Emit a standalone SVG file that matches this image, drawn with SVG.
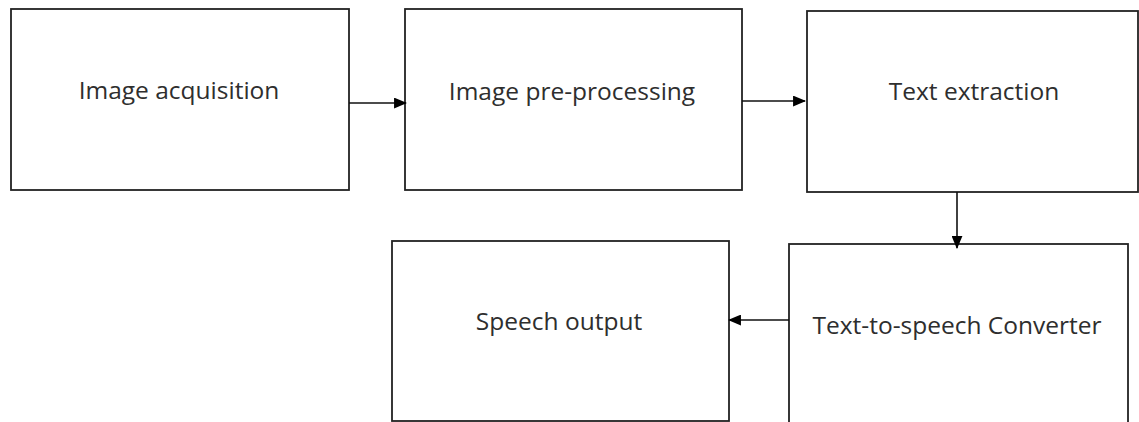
<svg xmlns="http://www.w3.org/2000/svg" width="1139" height="422" viewBox="0 0 1139 422">
  <style>
    .box { fill: #ffffff; stroke: #222222; stroke-width: 1.8; }
    .label { font-family: "Open Sans", "Noto Sans", sans-serif; font-size: 24.5px; fill: #2e2e2e; text-anchor: middle; }
    .link { stroke: #111111; stroke-width: 1.6; fill: none; marker-end: url(#head); }
  </style>
  <defs>
    <marker id="head" viewBox="0 0 12 10" refX="11" refY="5" markerWidth="13" markerHeight="11" markerUnits="userSpaceOnUse" orient="auto">
      <path d="M0,0 L12,5 L0,10 Z" fill="#000000"/>
    </marker>
  </defs>
  <rect width="1139" height="422" fill="#ffffff"/>

  <g id="node-acquisition">
    <rect class="box" x="11" y="9" width="338" height="181"/>
    <text class="label" x="179" y="99">Image acquisition</text>
  </g>
  <g id="node-preprocessing">
    <rect class="box" x="405" y="9" width="337" height="181"/>
    <text class="label" x="572" y="100">Image pre-processing</text>
  </g>
  <g id="node-extraction">
    <rect class="box" x="807" y="11" width="331" height="181"/>
    <text class="label" x="974" y="100">Text extraction</text>
  </g>
  <g id="node-tts">
    <rect class="box" x="789" y="244" width="339" height="190"/>
    <text class="label" x="957" y="334">Text-to-speech Converter</text>
  </g>
  <g id="node-speech">
    <rect class="box" x="392" y="241" width="337" height="180"/>
    <text class="label" x="559" y="330">Speech output</text>
  </g>

  <g id="connectors">
    <line class="link" x1="349" y1="103" x2="406" y2="103"/>
    <line class="link" x1="742" y1="101" x2="805" y2="101"/>
    <line class="link" x1="957" y1="192" x2="957" y2="248"/>
    <line class="link" x1="789" y1="320" x2="729" y2="320"/>
  </g>
</svg>
